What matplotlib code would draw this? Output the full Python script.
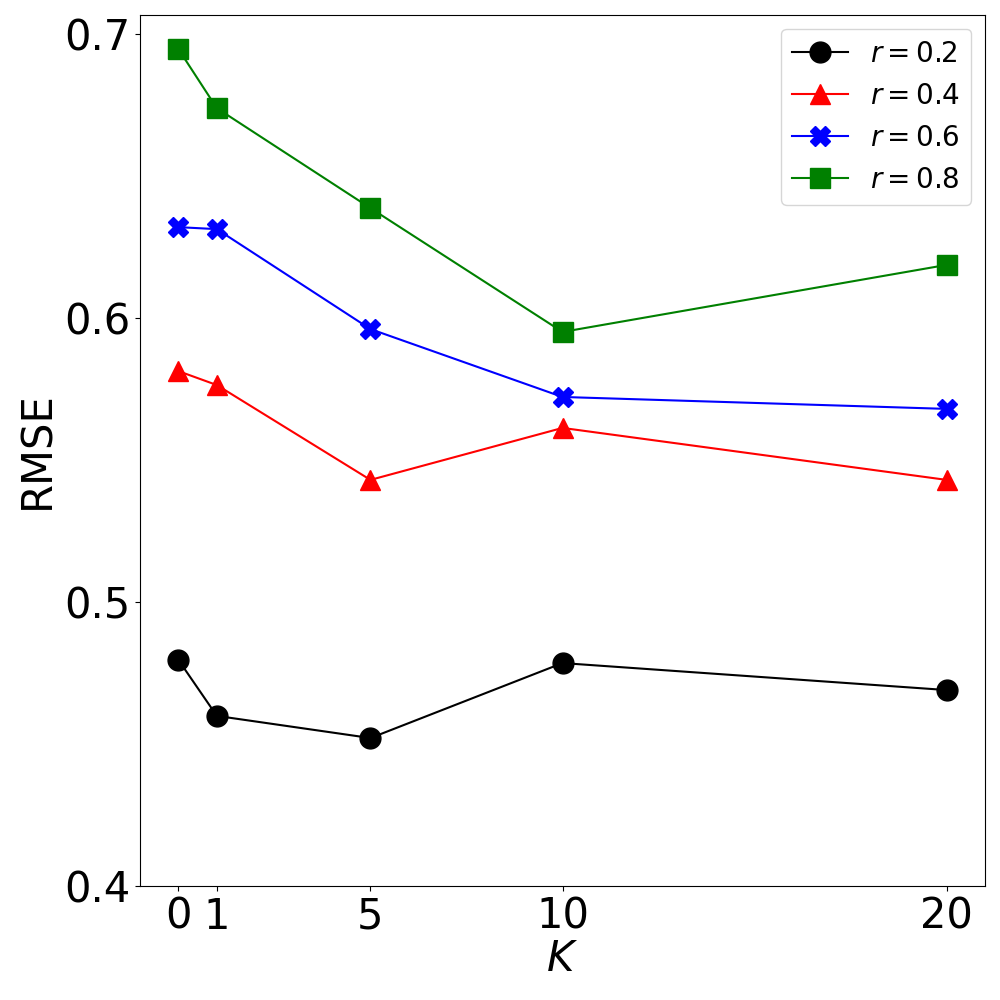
import matplotlib
matplotlib.use('Agg')
import matplotlib.pyplot as plt

K = [0, 1, 5, 10, 20]
rmse_r02 = [0.4796, 0.4599, 0.4521, 0.4785, 0.4690]
rmse_r04 = [0.5813, 0.5764, 0.5430, 0.5613, 0.5430]
rmse_r06 = [0.6320, 0.6313, 0.5961, 0.5722, 0.5680]
rmse_r08 = [0.6947, 0.6739, 0.6387, 0.5951, 0.6187]

series = [
    (rmse_r02, 'black', 'o', r'$r=0.2$'),
    (rmse_r04, 'red', '^', r'$r=0.4$'),
    (rmse_r06, 'blue', 'X', r'$r=0.6$'),
    (rmse_r08, 'green', 's', r'$r=0.8$'),
]

fig = plt.figure(figsize=(10, 10), dpi=100)
ax = fig.add_axes([0.14, 0.114, 0.845, 0.871])

for vals, color, marker, label in series:
    ax.plot(K, vals, color=color, marker=marker, markersize=15, label=label)

ax.set_xticks(K)
ax.set_yticks([0.4, 0.5, 0.6, 0.7])
ax.set_xlim(-1, 21)
ax.set_ylim(0.4, 0.7067)
ax.tick_params(labelsize=30)
ax.set_xlabel(r'$K$', fontsize=30, labelpad=0)
ax.set_ylabel('RMSE', fontsize=30)
ax.legend(fontsize=20, loc='upper right')

fig.savefig('out.png', dpi=100)
